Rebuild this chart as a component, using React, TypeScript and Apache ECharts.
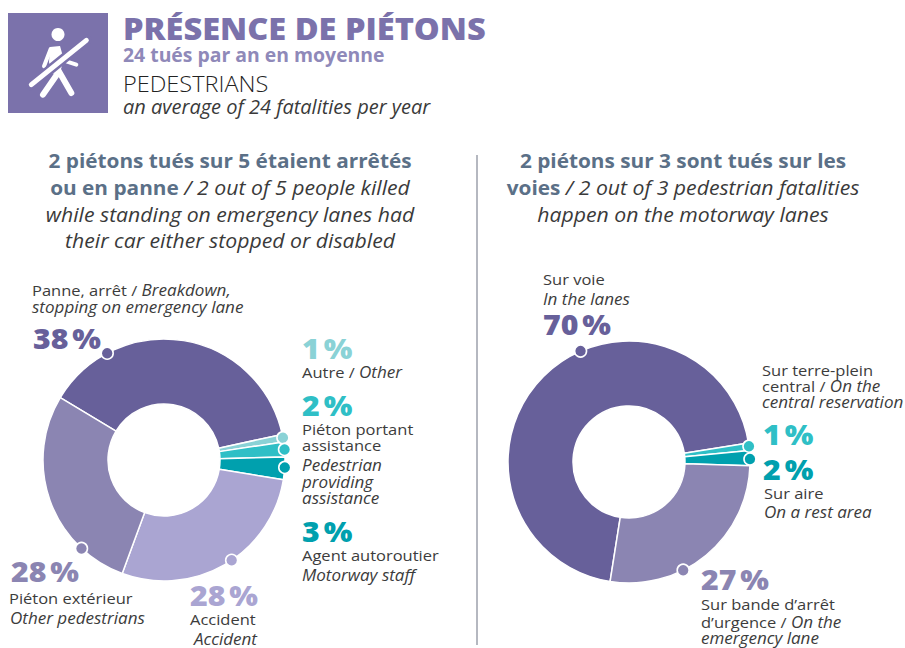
import React, { useEffect, useRef } from "react";
import * as echarts from "echarts";

const leftNames = ["Panne, arrêt", "Autre", "Piéton portant assistance", "Agent autoroutier", "Accident", "Piéton extérieur"];
const leftValues = [38, 1, 2, 3, 28, 28];
const leftColors = ["#67609a", "#8ad2d6", "#2fbfc6", "#00a0ae", "#aaa5d2", "#8b85b2"];
const leftDotAngles = [118, 10.6, 5, -3.5, -56, -133];

const rightNames = ["Sur voie", "Sur terre-plein central", "Sur aire", "Sur bande d'arrêt d'urgence"];
const rightValues = [70, 1, 2, 27];
const rightColors = ["#67609a", "#2fbfc6", "#00a0ae", "#8b85b2"];
const rightDotAngles = [113.6, 7.5, 1.4, -63.4];

const FONT = "Open Sans";
const BODY = "#3c3c3c";
const SUB = "#5b7087";
const R_OUT = 121;
const R_IN = 56;
const C_L: [number, number] = [164, 460];
const C_R: [number, number] = [629, 462];
const Z = 50;

const rich = {
  r: { fontFamily: FONT, fontSize: 15, fill: BODY, fontWeight: 400 },
  i: { fontFamily: FONT, fontSize: 15.5, fill: BODY, fontStyle: "italic" },
  b: { fontFamily: FONT, fontSize: 19.8, fill: SUB, fontWeight: 700 },
  t: { fontFamily: FONT, fontSize: 20.2, fill: "#3a3a3a", fontStyle: "italic" },
};

function text(x: number, y: number, t: string, align = "left", scaleX = 1.1) {
  return { type: "text", x, y, z: Z, scaleX, silent: true, style: { text: t, rich, align, verticalAlign: "middle", font: `15px ${FONT}` } };
}
function sub(x: number, y: number, t: string) {
  return text(x, y, t, "center", 1.05);
}
function pct(x: number, y: number, t: string, fill: string) {
  return { type: "text", x, y, z: Z, scaleX: 1.08, silent: true, style: { text: t, fill, fontFamily: FONT, fontSize: 28, fontWeight: 800, verticalAlign: "middle" } };
}
function head(x: number, y: number, t: string, size: number, weight: number | string, fill: string, style = "normal", scaleX = 1) {
  return { type: "text", x, y, z: Z, scaleX, silent: true, style: { text: t, fill, fontFamily: FONT, fontSize: size, fontWeight: weight, fontStyle: style, verticalAlign: "middle" } };
}
function dots(c: [number, number], angles: number[], colors: string[]) {
  return angles.map((a, i) => ({
    type: "circle",
    z: Z,
    silent: true,
    shape: { cx: c[0] + R_OUT * Math.cos((a * Math.PI) / 180), cy: c[1] - R_OUT * Math.sin((a * Math.PI) / 180), r: 6 },
    style: { fill: colors[i], stroke: "#fff", lineWidth: 1.6 },
  }));
}
function limb(points: number[][], w: number, stroke = "#fff") {
  return { type: "polyline", z: Z, silent: true, shape: { points: points.map(([x, y]) => [8 + x / 3, 13 + y / 3]) }, style: { stroke, lineWidth: w, fill: "none", lineCap: "round", lineJoin: "round" } };
}
function pie(name: string, center: [number, number], startAngle: number, names: string[], values: number[], colors: string[]) {
  return {
    type: "pie",
    name,
    center,
    radius: [R_IN, R_OUT],
    startAngle,
    clockwise: true,
    silent: true,
    label: { show: false },
    labelLine: { show: false },
    itemStyle: { borderColor: "#fff", borderWidth: 1.5 },
    data: values.map((value, i) => ({ name: names[i], value, itemStyle: { color: colors[i] } })),
  };
}

const graphics = [
  { type: "rect", z: Z, silent: true, shape: { x: 8, y: 13, width: 100, height: 100 }, style: { fill: "#7b72ab" } },
  { type: "circle", z: Z, silent: true, shape: { cx: 58, cy: 34.5, r: 6.5 }, style: { fill: "#fff" } },
  { type: "polygon", z: Z, silent: true, shape: { points: [[50, 47], [60, 46], [64, 60], [60, 72], [52, 74], [49, 62]] }, style: { fill: "#fff" } },
  limb([[128, 108], [108, 160]], 4),
  limb([[175, 145], [205, 155]], 4),
  limb([[150, 180], [105, 245]], 6),
  limb([[150, 170], [190, 240]], 6),
  limb([[68, 217], [237, 80]], 10, "#7b72ab"),
  limb([[70, 215], [235, 82]], 5),
  head(123, 28, "PRÉSENCE DE PIÉTONS", 30, 800, "#7b72ab", "normal", 1.085),
  head(123, 54, "24 tués par an en moyenne", 19.4, 700, "#8f89b9"),
  head(123, 84, "PEDESTRIANS", 22, 300, "#222", "normal", 1.07),
  head(123, 106.5, "an average of 24 fatalities per year", 20, 400, "#3a3a3a", "italic"),

  sub(230, 160, "{b|2 piétons tués sur 5 étaient arrêtés}"),
  sub(230, 187, "{b|ou en panne}{t| / 2 out of 5 people killed}"),
  sub(230, 214, "{t|while standing on emergency lanes had}"),
  sub(230, 240, "{t|their car either stopped or disabled}"),
  sub(683, 160, "{b|2 piétons sur 3 sont tués sur les}"),
  sub(683, 187, "{b|voies}{t| / 2 out of 3 pedestrian fatalities}"),
  sub(683, 214, "{t|happen on the motorway lanes}"),
  { type: "line", z: Z, silent: true, shape: { x1: 477, y1: 155, x2: 477, y2: 645 }, style: { stroke: "#b5b8c0", lineWidth: 2 } },

  ...dots(C_L, leftDotAngles, leftColors),
  ...dots(C_R, rightDotAngles, rightColors),

  text(32, 290, "{r|Panne, arrêt / }{i|Breakdown,}"),
  text(32, 307, "{i|stopping on emergency lane}"),
  pct(33, 338, "38\u202f%", "#67609a"),
  pct(302, 348, "1\u202f%", "#8ad2d6"),
  text(302, 372, "{r|Autre / }{i|Other}"),
  pct(302, 405, "2\u202f%", "#2fbfc6"),
  text(302, 429, "{r|Piéton portant}"),
  text(302, 445, "{r|assistance}"),
  text(302, 465, "{i|Pedestrian}"),
  text(302, 482, "{i|providing}"),
  text(302, 498, "{i|assistance}"),
  pct(302, 531, "3\u202f%", "#00a0ae"),
  text(302, 555, "{r|Agent autoroutier}"),
  text(302, 575, "{i|Motorway staff}"),
  pct(11, 571, "28\u202f%", "#8b85b2"),
  text(9, 598, "{r|Piéton extérieur}"),
  text(10, 618, "{i|Other pedestrians}"),
  pct(190, 595, "28\u202f%", "#aaa5d2"),
  text(190, 619, "{r|Accident}"),
  text(257, 639, "{i|Accident}", "right"),

  text(543, 279, "{r|Sur voie}"),
  text(543, 299, "{i|In the lanes}"),
  pct(543, 324, "70\u202f%", "#67609a"),
  text(762, 370, "{r|Sur terre-plein}"),
  text(762, 386, "{r|central / }{i|On the}"),
  text(762, 402, "{i|central reservation}"),
  pct(763, 434, "1\u202f%", "#2fbfc6"),
  pct(763, 469, "2\u202f%", "#00a0ae"),
  text(764, 493, "{r|Sur aire}"),
  text(764, 512, "{i|On a rest area}"),
  pct(701, 579, "27\u202f%", "#8b85b2"),
  text(701, 604, "{r|Sur bande d’arrêt}"),
  text(701, 622, "{r|d’urgence / }{i|On the}"),
  text(701, 638, "{i|emergency lane}"),
];

export default function App() {
  const ref = useRef<HTMLDivElement>(null);
  useEffect(() => {
    const chart = echarts.init(ref.current!, undefined, { renderer: "svg" });
    chart.setOption({
      animation: false,
      backgroundColor: "#fff",
      series: [
        pie("Causes", C_L, 149, leftNames, leftValues, leftColors),
        pie("Lieux", C_R, 261, rightNames, rightValues, rightColors),
      ],
      graphic: { elements: graphics },
    });
    return () => chart.dispose();
  }, []);
  return <div ref={ref} style={{ position: "absolute", left: 0, top: 0, width: 905, height: 648 }} />;
}
